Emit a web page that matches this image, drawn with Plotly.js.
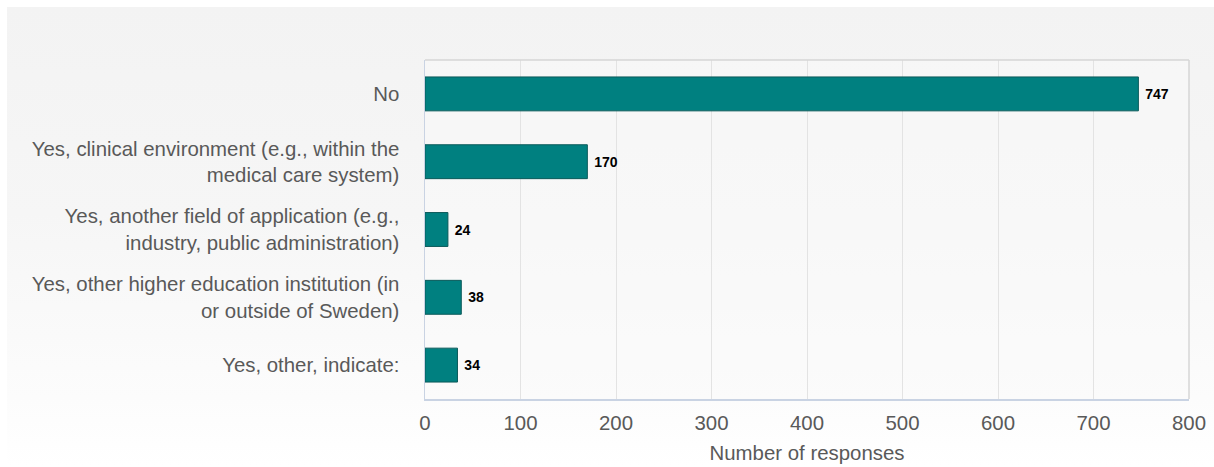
<!DOCTYPE html>
<html>
<head>
<meta charset="utf-8">
<script src="https://cdn.plot.ly/plotly-3.0.1.min.js"></script>
<style>
  html, body { margin: 0; padding: 0; background: #ffffff; width: 1214px; height: 467px; overflow: hidden; }
  #bg { position: absolute; left: 7px; top: 7px; right: 0; bottom: 0;
        background: linear-gradient(to bottom, #f3f3f3 0%, #f6f6f6 45%, #fcfcfc 85%, #ffffff 100%); }
  #chart { position: absolute; left: 0; top: 0; width: 1214px; height: 467px; }
</style>
</head>
<body>
<div id="bg"></div>
<div id="chart"></div>
<script>
const categories = [
  "No",
  "Yes, clinical environment (e.g., within the<br>medical care system)",
  "Yes, another field of application (e.g.,<br>industry, public administration)",
  "Yes, other higher education institution (in<br>or outside of Sweden)",
  "Yes, other, indicate:"
];
const responses = [747, 170, 24, 38, 34];
const xTicks = [0, 100, 200, 300, 400, 500, 600, 700, 800];

const trace = {
  type: "bar",
  orientation: "h",
  y: categories,
  x: responses,
  width: 0.5,
  marker: { color: "#008080", line: { color: "#0b5a5a", width: 1 } },
  text: responses.map(v => "\u00a0<b>" + v + "</b>"),
  textposition: "outside",
  cliponaxis: false,
  textfont: { family: "Liberation Sans, Arial, sans-serif", size: 14, color: "#000000" },
  hoverinfo: "none"
};

const gray = "#595959";
const fs = 20.4;
const layout = {
  width: 1214, height: 467,
  margin: { l: 425, r: 25, t: 60, b: 68 },
  paper_bgcolor: "rgba(0,0,0,0)",
  plot_bgcolor: "rgba(250,250,250,0.5)",
  font: { family: "Liberation Sans, Arial, sans-serif", size: fs, color: gray },
  showlegend: false,
  bargap: 0.5,
  xaxis: {
    range: [0, 800],
    tickvals: xTicks,
    ticktext: xTicks.map(String),
    showgrid: true, gridcolor: "#e3e3e3", gridwidth: 1,
    zeroline: false,
    showline: true, linecolor: "#c9d3e3", linewidth: 1.5,
    ticks: "", ticklabelstandoff: 5,
    tickfont: { size: fs, color: gray },
    title: { text: "Number of responses", font: { size: fs, color: gray }, standoff: 12 },
    fixedrange: true
  },
  yaxis: {
    categoryorder: "array",
    categoryarray: categories.slice().reverse(),
    showgrid: false, zeroline: false,
    showline: true, linecolor: "#c9d3e3", linewidth: 1.5,
    ticks: "", ticklabelstandoff: 20,
    tickfont: { size: fs, color: gray },
    fixedrange: true
  },
  shapes: [
    { type: "line", xref: "paper", yref: "paper", x0: 0, x1: 1, y0: 1, y1: 1, line: { color: "#d6d6d6", width: 1.5 } },
    { type: "line", xref: "paper", yref: "paper", x0: 1, x1: 1, y0: 0, y1: 1, line: { color: "#d6d6d6", width: 1.5 } }
  ]
};

Plotly.newPlot("chart", [trace], layout, { displayModeBar: false, staticPlot: true });
</script>
</body>
</html>
